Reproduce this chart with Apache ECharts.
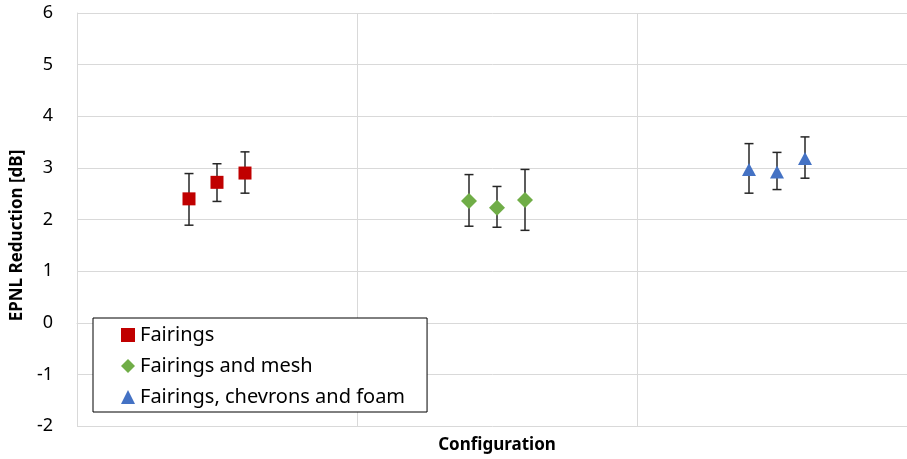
<!DOCTYPE html>
<html>
<head>
<meta charset="utf-8">
<script src="https://cdn.jsdelivr.net/npm/echarts@6/dist/echarts.min.js"></script>
<style>html,body{margin:0;padding:0;background:#fff;}#c{width:907px;height:459px;}</style>
</head>
<body>
<div id="c"></div>
<script>
var seriesNames = ['Fairings', 'Fairings and mesh', 'Fairings, chevrons and foam'];
var fairingsX = [0.4, 0.5, 0.6];
var fairingsY = [2.40, 2.72, 2.90];
var fairingsLow = [1.89, 2.35, 2.51];
var fairingsHigh = [2.89, 3.08, 3.31];
var meshX = [1.4, 1.5, 1.6];
var meshY = [2.36, 2.23, 2.38];
var meshLow = [1.87, 1.85, 1.79];
var meshHigh = [2.87, 2.64, 2.97];
var foamX = [2.4, 2.5, 2.6];
var foamY = [2.97, 2.92, 3.18];
var foamLow = [2.51, 2.58, 2.80];
var foamHigh = [3.47, 3.30, 3.60];
var colors = ['#C00000', '#70AD47', '#4472C4'];
var symbols = ['rect', 'diamond', 'triangle'];
var symbolSizes = [[13, 13], [16, 16], [14, 13]];

var groups = [
  [fairingsX, fairingsY, fairingsLow, fairingsHigh],
  [meshX, meshY, meshLow, meshHigh],
  [foamX, foamY, foamLow, foamHigh]
];
var FONT = 'Noto Sans';

function errorRender(params, api) {
  var x = api.value(0);
  var lo = api.coord([x, api.value(1)]);
  var hi = api.coord([x, api.value(2)]);
  var hw = 4.5;
  var st = {stroke: '#262626', lineWidth: 1.5};
  return {
    type: 'group',
    children: [
      {type: 'line', shape: {x1: lo[0], y1: lo[1], x2: hi[0], y2: hi[1]}, style: st},
      {type: 'line', shape: {x1: lo[0] - hw, y1: lo[1], x2: lo[0] + hw, y2: lo[1]}, style: st},
      {type: 'line', shape: {x1: hi[0] - hw, y1: hi[1], x2: hi[0] + hw, y2: hi[1]}, style: st}
    ]
  };
}

var series = [];
groups.forEach(function (g, i) {
  var errData = g[0].map(function (x, k) { return [x, g[2][k], g[3][k]]; });
  series.push({
    type: 'custom',
    name: seriesNames[i] + ' err',
    renderItem: errorRender,
    data: errData,
    z: 2,
    silent: true,
    encode: {x: 0, y: [1, 2]}
  });
});
groups.forEach(function (g, i) {
  series.push({
    type: 'scatter',
    name: seriesNames[i],
    symbol: symbols[i],
    symbolSize: symbolSizes[i],
    itemStyle: {color: colors[i], opacity: 1},
    data: g[0].map(function (x, k) { return [x, g[1][k]]; }),
    z: 5
  });
});

var chart = echarts.init(document.getElementById('c'));
chart.setOption({
  animation: false,
  backgroundColor: '#fff',
  grid: {left: 77, width: 840, top: 13, bottom: 33, containLabel: false, outerBoundsMode: 'none'},
  xAxis: {
    type: 'value', min: 0, max: 3, interval: 1,
    name: 'Configuration', nameLocation: 'middle', nameGap: 11,
    nameTextStyle: {fontFamily: FONT, fontWeight: 'bold', fontSize: 17, color: '#000'},
    axisLine: {show: true, lineStyle: {color: '#d9d9d9', width: 1}},
    axisTick: {show: false},
    axisLabel: {show: false},
    splitLine: {show: true, lineStyle: {color: '#d9d9d9', width: 1}}
  },
  yAxis: {
    type: 'value', min: -2, max: 6, interval: 1,
    name: 'EPNL Reduction [dB]', nameLocation: 'middle', nameGap: 46, nameRotate: 90,
    nameTextStyle: {fontFamily: FONT, fontWeight: 'bold', fontSize: 17, color: '#000', padding: [0, 32, 0, 0]},
    axisLine: {show: true, lineStyle: {color: '#d9d9d9', width: 1}},
    axisTick: {show: false},
    axisLabel: {fontFamily: FONT, fontSize: 18, color: '#000', margin: 24},
    splitLine: {show: true, lineStyle: {color: '#d9d9d9', width: 1}}
  },
  legend: {
    data: seriesNames.map(function (n, i) { return {name: n, icon: symbols[i]}; }),
    orient: 'vertical',
    left: 93, top: 318,
    backgroundColor: '#fff',
    borderColor: '#000', borderWidth: 1,
    padding: [7, 22, 5, 28],
    itemWidth: 14, itemHeight: 14, itemGap: 11,
    textStyle: {fontFamily: FONT, fontSize: 20, color: '#000'},
    selectedMode: false
  },
  series: series
});
</script>
</body>
</html>
